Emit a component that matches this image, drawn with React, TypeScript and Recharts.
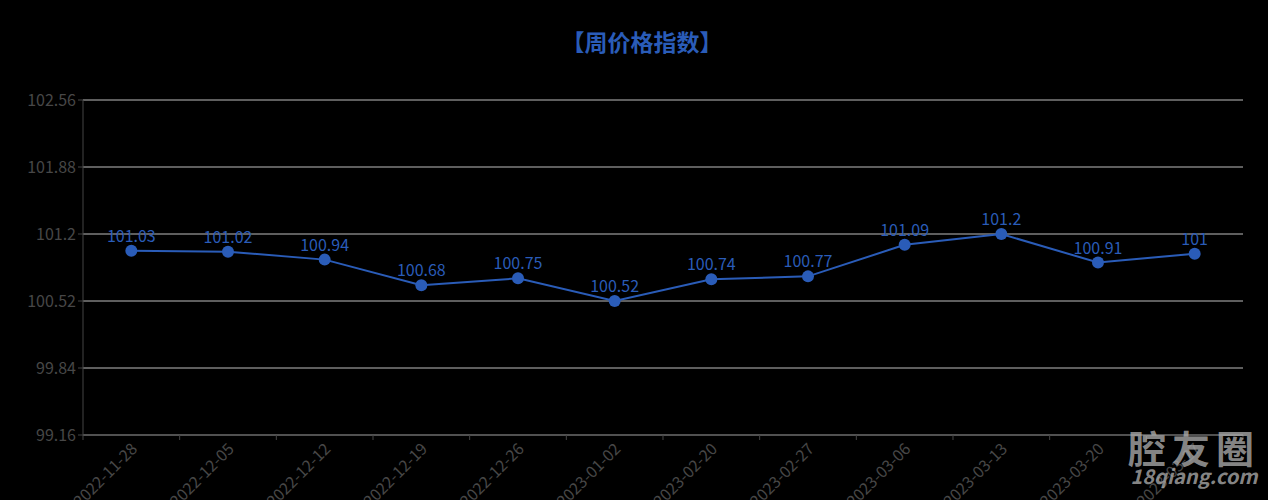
import React from "react";
import {
  LineChart,
  Line,
  XAxis,
  YAxis,
  CartesianGrid,
  LabelList,
} from "recharts";

const weeks = [
  "2022-11-28",
  "2022-12-05",
  "2022-12-12",
  "2022-12-19",
  "2022-12-26",
  "2023-01-02",
  "2023-02-20",
  "2023-02-27",
  "2023-03-06",
  "2023-03-13",
  "2023-03-20",
  "2023-03-27",
];
const priceIndex = [
  101.03, 101.02, 100.94, 100.68, 100.75, 100.52, 100.74, 100.77, 101.09,
  101.2, 100.91, 101,
];
const yTicks = [99.16, 99.84, 100.52, 101.2, 101.88, 102.56];

const W = 1268;
const H = 500;
const LEFT = 83;
const RIGHT = 25;
const BAND = (W - LEFT - RIGHT) / weeks.length;
const FONT = "'Noto Sans CJK SC', 'Noto Sans', sans-serif";
const BLUE = "#2a5cb8";

const data = weeks.map((week, i) => ({ week, value: priceIndex[i] }));

// category ticks sit on band edges, labels on band centres
function XTick(props: any) {
  const { x, y, payload, index } = props;
  const last = index === weeks.length - 1;
  return (
    <g transform={`translate(${x},${y})`}>
      <line x1={-BAND / 2} y1={-8} x2={-BAND / 2} y2={-3} stroke="#444" />
      {last && <line x1={BAND / 2} y1={-8} x2={BAND / 2} y2={-3} stroke="#444" />}
      <text
        x={0}
        y={0}
        textAnchor="end"
        dominantBaseline="central"
        transform="translate(2,2) rotate(-45)"
        fill="#474747"
        fontSize={16}
        fontFamily={FONT}
      >
        {payload.value}
      </text>
    </g>
  );
}

export default function App() {
  return (
    <div
      style={{
        position: "absolute",
        left: 0,
        top: 0,
        width: W,
        height: H,
        background: "#000",
        overflow: "hidden",
      }}
    >
      <div
        style={{
          position: "absolute",
          top: 24,
          left: 0,
          width: W,
          textAlign: "center",
          color: BLUE,
          fontSize: 23,
          fontWeight: "bold",
          fontFamily: FONT,
          paddingLeft: 8,
        }}
      >
        【周价格指数】
      </div>
      <LineChart
        width={W}
        height={H}
        data={data}
        margin={{ top: 100, right: RIGHT, left: 0, bottom: 0 }}
      >
        <CartesianGrid
          vertical={false}
          horizontal={{ shapeRendering: "crispEdges" } as any}
          stroke="#bdbdbd"
        />
        <XAxis
          dataKey="week"
          height={65}
          interval={0}
          padding={{ left: BAND / 2, right: BAND / 2 }}
          axisLine={{ stroke: "#444" }}
          tickLine={false}
          tick={<XTick />}
        />
        <YAxis
          width={LEFT}
          domain={[99.16, 102.56]}
          ticks={yTicks}
          interval={0}
          axisLine={{ stroke: "#444" }}
          tickLine={{ stroke: "#444" }}
          tickSize={5}
          tick={{ fill: "#474747", fontSize: 16, fontFamily: FONT }}
        />
        <Line
          type="linear"
          dataKey="value"
          stroke={BLUE}
          strokeWidth={2}
          dot={{ r: 6, fill: BLUE, stroke: BLUE, strokeWidth: 0 }}
          isAnimationActive={false}
        >
          <LabelList
            dataKey="value"
            position="top"
            offset={9}
            fill={BLUE}
            fontSize={16}
            fontFamily={FONT}
          />
        </Line>
      </LineChart>
      <div
        style={{
          position: "absolute",
          left: 1128,
          top: 428,
          color: "rgba(170,170,170,0.8)",
          fontFamily: FONT,
          fontWeight: "bold",
          lineHeight: 1,
          textAlign: "center",
        }}
      >
        <div style={{ fontSize: 38, letterSpacing: 6 }}>腔友圈</div>
        <div style={{ fontSize: 20, fontStyle: "italic" }}>18qiang.com</div>
      </div>
    </div>
  );
}
